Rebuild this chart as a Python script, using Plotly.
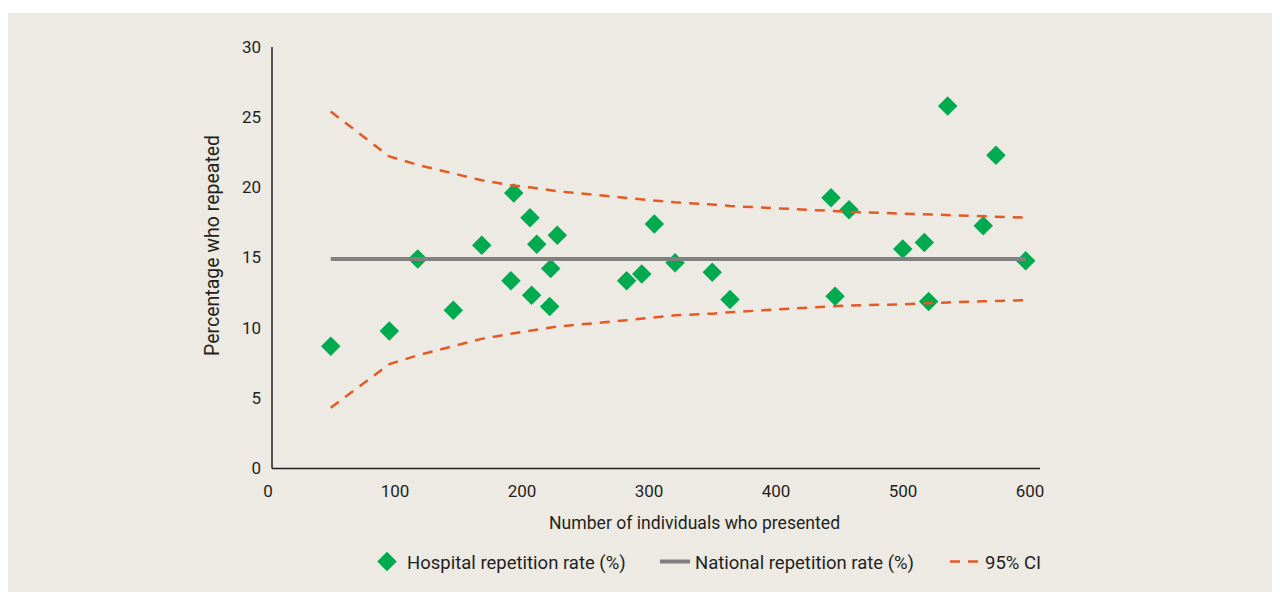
import plotly.graph_objects as go

# Hospital data (number presented, repetition rate %)
hosp_n = [49.4, 95.5, 117.9, 145.9, 168.3, 191.3, 193.5, 206.3, 207.6, 211.6,
          221.8, 222.6, 227.8, 282.4, 294.3, 304.2, 320.5, 349.8, 363.8, 443.3,
          446.5, 457.5, 499.8, 516.8, 520.2, 535.2, 563.2, 573.2, 596.6]
hosp_rate = [8.68, 9.77, 14.90, 11.24, 15.87, 13.35, 19.60, 17.84, 12.31, 15.94,
             11.50, 14.21, 16.58, 13.35, 13.83, 17.39, 14.62, 13.95, 12.00, 19.25,
             12.24, 18.41, 15.61, 16.06, 11.86, 25.80, 17.27, 22.28, 14.76]

national_rate = 14.9

ci_upper = [25.4, 22.2, 21.6, 21.0, 20.5, 20.15, 20.12, 20.0, 19.98, 19.93,
            19.8, 19.79, 19.72, 19.24, 19.14, 19.05, 18.93, 18.77, 18.67, 18.32,
            18.30, 18.25, 18.13, 18.07, 18.06, 18.01, 17.93, 17.90, 17.84]
ci_lower = [4.3, 7.4, 8.03, 8.68, 9.2, 9.57, 9.6, 9.8, 9.82, 9.87,
            10.0, 10.03, 10.08, 10.53, 10.64, 10.74, 10.88, 11.0, 11.1, 11.52,
            11.54, 11.57, 11.67, 11.74, 11.76, 11.8, 11.88, 11.91, 11.95]

x_ticks = [0, 100, 200, 300, 400, 500, 600]
y_ticks = [0, 5, 10, 15, 20, 25, 30]

x_title = "Number of individuals who presented"
y_title = "Percentage who repeated"

BG = "#EDEAE4"
GREEN = "#00AA4F"
ORANGE = "#E35A24"
GRAY = "#808080"
INK = "#231F20"
FONT = "Roboto, Liberation Sans Narrow, sans-serif"

# page is offset by 8px body margin
OFF = 8
W, H = 1280 - OFF, 592 - OFF
L, R, T, B = 268 - OFF, 1280 - 1040, 47 - OFF, 592 - 468
pw, ph = W - L - R, H - T - B

def px_x(p):
    return (p - OFF - L) / pw

def px_y(p):
    return (H - B - (p - OFF)) / ph

fig = go.Figure()

fig.add_trace(go.Scatter(
    x=hosp_n, y=hosp_rate, mode="markers",
    name="Hospital repetition rate (%)", legend="legend",
    marker=dict(symbol="diamond", size=15, color=GREEN),
))
fig.add_trace(go.Scatter(
    x=[hosp_n[0], hosp_n[-1]], y=[national_rate, national_rate], mode="lines",
    name="National repetition rate (%)", legend="legend2",
    line=dict(color=GRAY, width=4),
))
fig.add_trace(go.Scatter(
    x=hosp_n, y=ci_upper, mode="lines", name="95% CI", legendgroup="ci",
    legend="legend3",
    line=dict(color=ORANGE, width=2.5, dash="10px,8px"),
))
fig.add_trace(go.Scatter(
    x=hosp_n, y=ci_lower, mode="lines", name="95% CI", legendgroup="ci",
    legend="legend3", showlegend=False,
    line=dict(color=ORANGE, width=2.5, dash="10px,8px"),
))

def leg(xpage):
    return dict(orientation="h", x=px_x(xpage), xanchor="left", y=px_y(543),
                yanchor="top", bgcolor="rgba(0,0,0,0)", font=dict(size=18.5, color=INK))

fig.update_layout(
    width=W, height=H,
    margin=dict(l=L, r=R, t=T, b=B, autoexpand=False),
    paper_bgcolor=BG, plot_bgcolor=BG,
    font=dict(family=FONT, size=17, color=INK),
    showlegend=True,
    legend=leg(367),
    legend2=leg(655),
    legend3=leg(945),
    xaxis=dict(
        range=[0, (1040 - 268) / 1.27], tickvals=x_ticks, ticktext=[str(v) for v in x_ticks],
        showgrid=False, zeroline=False, showline=False,
        ticks="", ticklabelstandoff=11,
    ),
    yaxis=dict(
        range=[0, 30], tickvals=y_ticks, ticktext=[str(v) for v in y_ticks],
        showgrid=False, zeroline=False, showline=False,
        ticks="", ticklabelstandoff=6,
    ),
    shapes=[
        dict(type="rect", xref="paper", yref="paper", x0=px_x(0), x1=px_x(1290),
             y0=px_y(13), y1=px_y(0), fillcolor="white", line=dict(width=0), layer="above"),
        dict(type="line", xref="paper", yref="paper", x0=px_x(272), x1=px_x(272),
             y0=px_y(468.5), y1=px_y(47), line=dict(color=INK, width=1.5)),
        dict(type="line", xref="paper", yref="paper", x0=px_x(272), x1=px_x(1040),
             y0=px_y(468.5), y1=px_y(468.5), line=dict(color=INK, width=1.5)),
    ],
    annotations=[
        dict(text=x_title, xref="paper", yref="paper", x=px_x(694.5), y=px_y(523),
             xanchor="center", yanchor="middle", showarrow=False,
             font=dict(size=17.6, color=INK)),
        dict(text=y_title, xref="paper", yref="paper", x=px_x(212), y=px_y(246),
             xanchor="center", yanchor="middle", showarrow=False, textangle=-90,
             font=dict(size=19.5, color=INK)),
    ],
)

fig.write_html("out.html")
